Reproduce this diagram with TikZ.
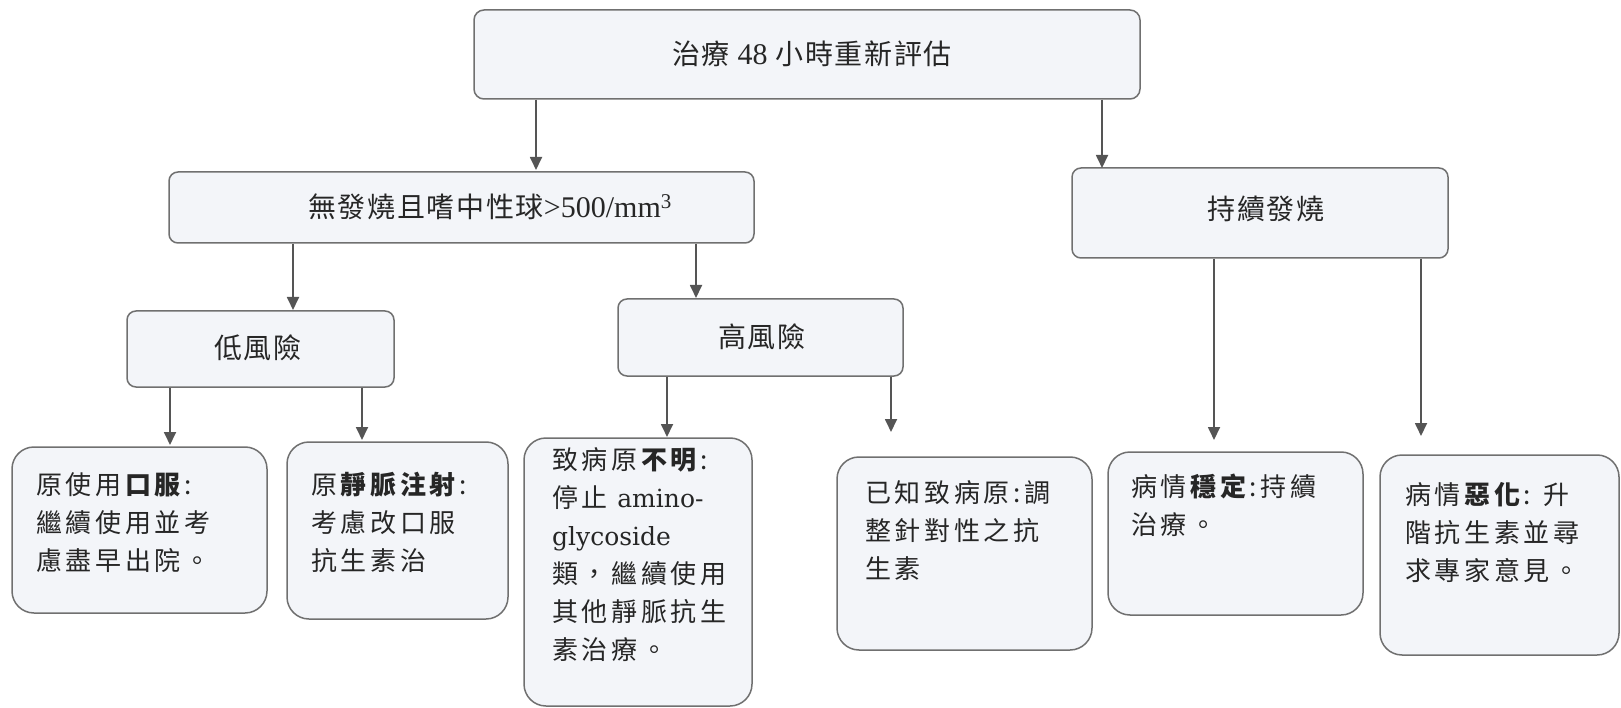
\documentclass[tikz,border=0pt]{standalone}
\usepackage{fontspec}
\usetikzlibrary{arrows.meta}
\newfontfamily\cjk[LetterSpace=6]{Noto Sans CJK TC}
\newfontfamily\cjkb[LetterSpace=14]{Noto Sans CJK TC}
\newfontfamily\latserif{Liberation Serif}
\newfontfamily\latd{DejaVu Serif}
\definecolor{boxfill}{HTML}{F3F5F9}
\definecolor{boxline}{HTML}{707070}
\definecolor{txtcol}{HTML}{262626}
\definecolor{arrcol}{HTML}{555555}
\begin{document}
\begin{tikzpicture}[x=1pt,y=-1pt,
  box/.style={draw=boxline, fill=boxfill, line width=1.5pt, rounded corners=#1, inner sep=0pt},
  box/.default=9pt,
  head/.style={text=txtcol, font={\cjk\fontsize{28}{32}\selectfont}, inner sep=0pt},
  body/.style={text=txtcol, font={\cjkb\fontsize{26}{38}\selectfont}, inner sep=0pt, align=left, anchor=north west},
  arr/.style={draw=arrcol, line width=1.8pt, -{Triangle[length=13pt,width=12pt]}}]
\useasboundingbox (0,0) rectangle (1621,708);

% level 0
\node[box=10pt, minimum width=666pt, minimum height=89pt] (top) at (807,54.5) {};
\node[head] (topt) at (812,54) {治療 {\latserif\fontsize{30}{32}\selectfont 48} 小時重新評估};

% level 1
\node[box=9pt, minimum width=585pt, minimum height=71pt] (nb) at (461.5,207.5) {};
\node[head] (nbt) at (490,207) {無發燒且嗜中性球{\latserif\fontsize{30}{32}\selectfont >500/mm\textsuperscript{3}}};
\node[box=9pt, minimum width=376pt, minimum height=90pt] (pf) at (1260,213) {};
\node[head] (pft) at (1266,209) {持續發燒};

% level 2
\node[box=9pt, minimum width=267pt, minimum height=76pt] (low) at (260.5,349) {};
\node[head] (lowt) at (258,348) {低風險};
\node[box=9pt, minimum width=285pt, minimum height=77pt] (high) at (760.5,337.5) {};
\node[head] (hight) at (762,337) {高風險};

% level 3
\node[box=22pt, minimum width=255pt, minimum height=166pt] (b1) at (139.5,530) {};
\node[body] (b1t) at (36,472) {原使用\textbf{口服}:\\繼續使用並考\\慮盡早出院。};
\node[box=22pt, minimum width=221pt, minimum height=177pt] (b2) at (397.5,530.5) {};
\node[body] (b2t) at (311,472) {原\textbf{靜脈注射}:\\考慮改口服\\抗生素治};
\node[box=22pt, minimum width=228pt, minimum height=268pt] (b3) at (638,572) {};
\node[body] (b3t) at (552,447) {致病原\textbf{不明}:\\停止 {\latd\fontsize{25}{38}\selectfont amino-}\\{\latd\fontsize{25}{38}\selectfont glycoside}\\類，繼續使用\\其他靜脈抗生\\素治療。};
\node[box=22pt, minimum width=255pt, minimum height=193pt] (b4) at (964.5,553.5) {};
\node[body] (b4t) at (865,480) {已知致病原:調\\整針對性之抗\\生素};
\node[box=22pt, minimum width=255pt, minimum height=163pt] (b5) at (1235.5,533.5) {};
\node[body] (b5t) at (1131,474) {病情\textbf{穩定}:持續\\治療。};
\node[box=22pt, minimum width=239pt, minimum height=200pt] (b6) at (1499.5,555) {};
\node[body] (b6t) at (1405,482) {病情\textbf{惡化}: 升\\階抗生素並尋\\求專家意見。};

% arrow tips
\coordinate (t1) at (536,170);
\coordinate (t2) at (1102,168);
\coordinate (t3) at (293,310);
\coordinate (t4) at (696,298);
\coordinate (t5) at (170,445);
\coordinate (t6) at (362,440);
\coordinate (t7) at (667,437);
\coordinate (t8) at (891,432);
\coordinate (t9) at (1214,440);
\coordinate (t10) at (1421,436);

\draw[arr] (top.south -| t1) -- (t1);
\draw[arr] (top.south -| t2) -- (t2);
\draw[arr] (nb.south -| t3) -- (t3);
\draw[arr] (nb.south -| t4) -- (t4);
\draw[arr] (low.south -| t5) -- (t5);
\draw[arr] (low.south -| t6) -- (t6);
\draw[arr] (high.south -| t7) -- (t7);
\draw[arr] (high.south -| t8) -- (t8);
\draw[arr] (pf.south -| t9) -- (t9);
\draw[arr] (pf.south -| t10) -- (t10);
\end{tikzpicture}
\end{document}
